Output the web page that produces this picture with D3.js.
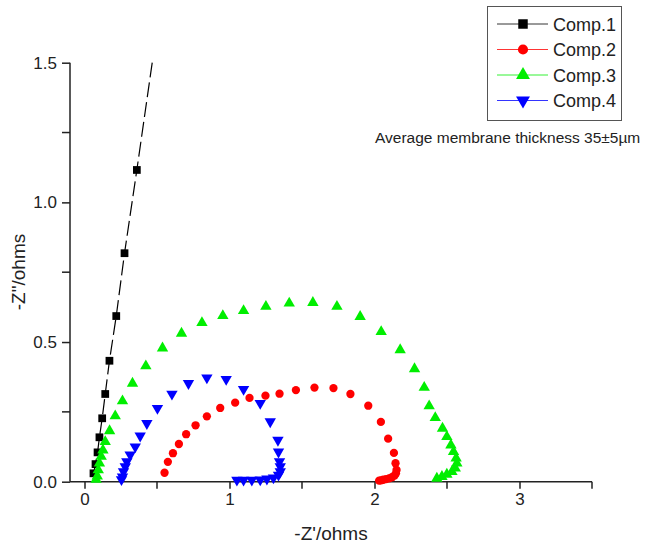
<!DOCTYPE html>
<html>
<head>
<meta charset="utf-8">
<script src="https://cdn.jsdelivr.net/npm/d3@7"></script>
<style>
  body { margin: 0; background: #fff; }
  text { font-family: "Liberation Sans", Arial, sans-serif; fill: #222; }
</style>
</head>
<body>
<svg id="chart" width="651" height="547"></svg>
<script>
// data: [-Z', -Z'']
const comp1 = [[0.062,0.030],[0.076,0.063],[0.090,0.105],[0.103,0.159],[0.122,0.227],[0.143,0.314],
  [0.172,0.433],[0.219,0.593],[0.276,0.818],[0.361,1.116],[0.500,1.620]];
const comp2 = [[0.552,0.032],[0.575,0.071],[0.610,0.102],[0.651,0.135],[0.701,0.170],[0.766,0.202],
  [0.844,0.234],[0.936,0.264],[1.039,0.283],[1.138,0.300],[1.248,0.308],[1.345,0.315],[1.458,0.328],
  [1.586,0.337],[1.717,0.335],[1.834,0.314],[1.957,0.272],[2.044,0.214],[2.094,0.154],[2.134,0.103],
  [2.145,0.066],[2.152,0.042],[2.148,0.030],[2.138,0.022],[2.120,0.016],[2.100,0.012],[2.080,0.009],
  [2.060,0.007],[2.045,0.005],[2.032,0.004]];
const comp3 = [[0.080,0.008],[0.088,0.020],[0.095,0.042],[0.103,0.066],[0.115,0.090],[0.127,0.113],
  [0.143,0.143],[0.173,0.182],[0.212,0.235],[0.262,0.289],[0.331,0.352],[0.423,0.414],[0.538,0.478],
  [0.669,0.531],[0.810,0.569],[0.954,0.594],[1.097,0.612],[1.251,0.627],[1.412,0.639],[1.575,0.641],
  [1.741,0.627],[1.901,0.591],[2.046,0.537],[2.177,0.472],[2.276,0.404],[2.343,0.337],[2.377,0.271],
  [2.419,0.229],[2.469,0.191],[2.499,0.161],[2.527,0.131],[2.545,0.107],[2.563,0.084],[2.568,0.066],
  [2.557,0.048],[2.534,0.036],[2.499,0.026],[2.465,0.018],[2.430,0.012]];
const comp4 = [[0.255,0.008],[0.262,0.018],[0.269,0.036],[0.281,0.054],[0.292,0.072],[0.315,0.096],
  [0.350,0.125],[0.384,0.164],[0.430,0.209],[0.503,0.263],[0.603,0.314],[0.717,0.352],[0.844,0.372],
  [0.977,0.367],[1.097,0.331],[1.212,0.281],[1.281,0.215],[1.334,0.149],[1.338,0.107],[1.345,0.072],
  [1.350,0.054],[1.350,0.036],[1.338,0.024],[1.303,0.014],[1.258,0.010],[1.212,0.007],[1.154,0.006],
  [1.097,0.006],[1.051,0.006]];

const seriesNames = ["Comp.1", "Comp.2", "Comp.3", "Comp.4"];
const seriesColors = ["#000000", "#ff0000", "#00ee00", "#0000ff"];
const xTicks = [0, 1, 2, 3];
const xMinorTicks = [0.5, 1.5, 2.5, 3.5];
const yTicks = [0, 0.5, 1.0, 1.5];
const yMinorTicks = [0.25, 0.75, 1.25];
const note = "Average membrane thickness 35\u00b15\u00b5m";

const svg = d3.select("#chart");
const x = d3.scaleLinear().domain([-0.1, 3.5]).range([70, 592]);
const y = d3.scaleLinear().domain([0, 1.5]).range([481.7, 62.7]);

svg.append("clipPath").attr("id", "plot-clip")
  .append("rect").attr("x", 70).attr("y", 60).attr("width", 530).attr("height", 428);

// axes
const xAxis = svg.append("g").attr("transform", "translate(0,481.7)")
  .call(d3.axisBottom(x).tickValues(xTicks).tickFormat(d3.format("d")).tickSize(7).tickPadding(4));
xAxis.append("g").selectAll("line").data(xMinorTicks).enter().append("line")
  .attr("x1", d => x(d)).attr("x2", d => x(d)).attr("y1", 0).attr("y2", 7)
  .attr("stroke", "#222").attr("stroke-width", 1.5);

const yAxis = svg.append("g").attr("transform", "translate(70,0)")
  .call(d3.axisLeft(y).tickValues(yTicks).tickFormat(d3.format(".1f")).tickSize(8).tickPadding(5));
yAxis.append("g").selectAll("line").data(yMinorTicks).enter().append("line")
  .attr("y1", d => y(d)).attr("y2", d => y(d)).attr("x1", 0).attr("x2", -8)
  .attr("stroke", "#222").attr("stroke-width", 1.5);

[xAxis, yAxis].forEach(a => {
  a.select(".domain").attr("stroke", "#222").attr("stroke-width", 1.5);
  a.selectAll(".tick line").attr("stroke", "#222").attr("stroke-width", 1.5);
  a.selectAll(".tick text").style("font-size", "17px").attr("fill", "#222")
    .style("font-family", "'Liberation Sans', Arial, sans-serif");
});
xAxis.select(".domain").attr("d", "M70,0H592");
yAxis.select(".domain").attr("d", "M0," + y(1.5) + "V" + y(0));

svg.append("text").attr("x", 331).attr("y", 540).attr("text-anchor", "middle")
  .style("font-size", "19px").text("-Z'/ohms");
svg.append("text").attr("transform", "translate(25,272) rotate(-90)").attr("text-anchor", "middle")
  .style("font-size", "19px").text('-Z"/ohms');

// plot
const plot = svg.append("g").attr("clip-path", "url(#plot-clip)");
const line = d3.line().x(d => x(d[0])).y(d => y(d[1]));

plot.append("path").datum(comp1).attr("d", line).attr("fill", "none")
  .attr("stroke", "#000").attr("stroke-width", 1.2).attr("stroke-dasharray", "15,5");

const symbols = [d3.symbolSquare, d3.symbolCircle, d3.symbolTriangle, d3.symbolTriangle];
const sizes = [60, 54, 56, 56];
const rotations = [0, 0, 0, 180];
const allData = [comp1, comp2, comp3, comp4];

allData.forEach((data, i) => {
  plot.append("g").selectAll("path").data(data).enter().append("path")
    .attr("d", d3.symbol().type(symbols[i]).size(sizes[i]))
    .attr("transform", d => `translate(${x(d[0])},${y(d[1])}) rotate(${rotations[i]})`)
    .attr("fill", seriesColors[i]);
});

// legend
const legend = svg.append("g");
legend.append("rect").attr("x", 487.5).attr("y", 6.5).attr("width", 134).attr("height", 114)
  .attr("fill", "#fff").attr("stroke", "#555").attr("stroke-width", 1);
seriesNames.forEach((name, i) => {
  const ly = 24 + i * 25.5;
  legend.append("line").attr("x1", 497).attr("x2", 548).attr("y1", ly).attr("y2", ly)
    .attr("stroke", seriesColors[i]).attr("stroke-width", 0.8);
  legend.append("path")
    .attr("d", d3.symbol().type(symbols[i]).size(sizes[i] * 1.5))
    .attr("transform", `translate(523,${ly}) rotate(${rotations[i]})`)
    .attr("fill", seriesColors[i]);
  legend.append("text").attr("x", 553).attr("y", ly + 6.5).style("font-size", "18px").text(name);
});

svg.append("text").attr("x", 375).attr("y", 143).style("font-size", "15.5px").text(note);
</script>
</body>
</html>
